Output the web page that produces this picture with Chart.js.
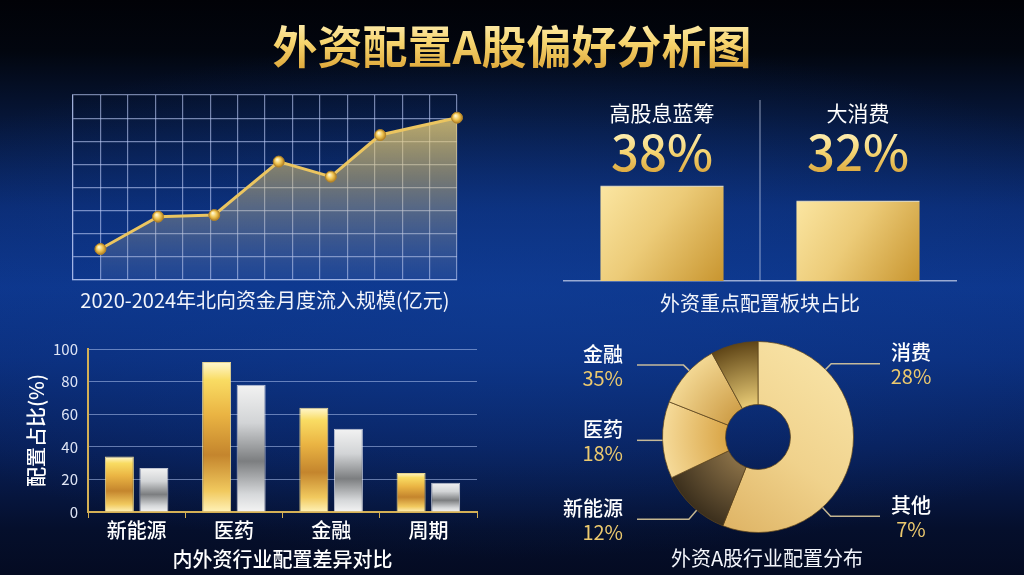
<!DOCTYPE html>
<html lang="zh-CN">
<head>
<meta charset="utf-8">
<title>外资配置A股偏好分析图</title>
<script src="https://cdn.jsdelivr.net/npm/chart.js@4.4.1/dist/chart.umd.min.js"></script>
<style>
  html, body { margin: 0; padding: 0; }
  body {
    width: 1024px; height: 575px; overflow: hidden; position: relative;
    font-family: "Noto Sans CJK SC", "Noto Sans", sans-serif;
    background:
      radial-gradient(ellipse 70% 45% at 50% 52%, rgba(16, 62, 150, 0.55) 0%, rgba(16, 62, 150, 0) 100%),
      linear-gradient(180deg, #010207 0%, #02060f 9%, #061536 20%, #0b2c74 36%, #0d368c 50%, #0b2f7e 62%, #081f58 78%, #050f2c 92%, #040b22 100%);
  }
  h1 {
    position: absolute; left: 0; top: 14px; width: 1024px; margin: 0;
    text-align: center; font-size: 45px; line-height: 62px; font-weight: 700;
    background: linear-gradient(180deg, #fff4c8 0%, #f7d670 45%, #d89c2c 100%);
    -webkit-background-clip: text; background-clip: text; color: transparent;
  }
  .panel { position: absolute; }
  .caption { position: absolute; color: #f3f5fb; font-size: 20px; line-height: 28px; text-align: center; white-space: nowrap; }
</style>
</head>
<body>
<h1>外资配置A股偏好分析图</h1>

<div class="panel" style="left:60px;top:85px;width:420px;height:205px"><canvas id="flowChart"></canvas></div>
<div class="caption" style="left:40px;top:286px;width:450px">2020-2024年北向资金月度流入规模(亿元)</div>

<div class="panel" style="left:560px;top:90px;width:420px;height:230px"><canvas id="sectorChart"></canvas></div>
<div class="caption" style="left:560px;top:289px;width:400px">外资重点配置板块占比</div>

<div class="panel" style="left:20px;top:330px;width:460px;height:245px"><canvas id="industryChart"></canvas></div>

<div class="panel" style="left:540px;top:320px;width:440px;height:255px"><canvas id="mixChart"></canvas></div>
<div class="caption" style="left:567px;top:544px;width:400px">外资A股行业配置分布</div>

<script>
/* 外资配置A股偏好分析图 */

/* ── DATA ───────────────────────────────────────────────────── */
// northbound monthly inflow (grid units)
const FLOW_X = [1, 3.1, 5.15, 7.5, 9.4, 11.2, 14];
const FLOW_Y = [134, 274, 281, 512, 447, 627, 702];

// key sectors
const SECTOR_NAMES = ['高股息蓝筹', '大消费'];
const SECTOR_SHARES = [38, 32];

// industry allocation, foreign (gold) vs domestic (silver)
const INDUSTRIES = ['新能源', '医药', '金融', '周期'];
const FOREIGN_ALLOC = [34, 92, 64, 24];
const DOMESTIC_ALLOC = [27, 78, 51, 18];
const ALLOC_TICKS = [0, 20, 40, 60, 80, 100];

// donut: slice sizes as drawn, callout labels as printed
const SLICE_SHARES = [56, 12, 13, 11, 8];
const CALLOUT_NAMES = ['消费', '其他', '新能源', '医药', '金融'];
const CALLOUT_PCTS = [28, 7, 12, 18, 35];

const GRID_BLUE = 'rgba(190, 205, 248, 0.6)';
const GOLD_LINE = '#d4b055';

Chart.defaults.font.family = '"Noto Sans CJK SC", "Noto Sans", sans-serif';
Chart.defaults.color = '#e6ebf7';
Chart.defaults.animation = false;

/* ── CHART: NORTHBOUND FLOW LINE ────────────────────────────── */
function buildFlowChart() {
  const areaFill = ctx => {
    const { chart } = ctx;
    const a = chart.chartArea;
    if (!a) return 'rgba(230,200,110,0.4)';
    const g = chart.ctx.createLinearGradient(0, a.top, 0, a.bottom);
    g.addColorStop(0, 'rgba(250, 220, 120, 0.88)');
    g.addColorStop(0.45, 'rgba(222, 196, 118, 0.5)');
    g.addColorStop(1, 'rgba(150, 165, 200, 0.12)');
    return g;
  };
  const ball = ctx => {
    const { chart } = ctx;
    if (!chart.chartArea || ctx.type !== 'data') return '#eec458';
    const px = chart.scales.x.getPixelForValue(FLOW_X[ctx.dataIndex]);
    const py = chart.scales.y.getPixelForValue(FLOW_Y[ctx.dataIndex]);
    const g = chart.ctx.createRadialGradient(px - 1.5, py - 2, 0.5, px, py, 6);
    g.addColorStop(0, '#fff6cc');
    g.addColorStop(0.5, '#efc451');
    g.addColorStop(1, '#a9761c');
    return g;
  };

  new Chart(document.getElementById('flowChart'), {
    type: 'line',
    data: {
      datasets: [{
        data: FLOW_X.map((x, i) => ({ x, y: FLOW_Y[i] })),
        borderColor: '#ebc560',
        borderWidth: 3,
        fill: 'origin',
        backgroundColor: areaFill,
        pointRadius: 5.5,
        pointBackgroundColor: ball,
        pointBorderColor: '#b3842a',
        pointBorderWidth: 1,
        clip: false,
      }]
    },
    options: {
      responsive: true,
      maintainAspectRatio: false,
      layout: { padding: { left: 13, right: 23, top: 10, bottom: 10 } },
      plugins: { legend: { display: false }, tooltip: { enabled: false } },
      scales: {
        x: {
          type: 'linear', min: 0, max: 14,
          ticks: { display: false, stepSize: 1 },
          grid: { color: GRID_BLUE, lineWidth: 1.2, drawTicks: false },
          border: { color: GRID_BLUE, width: 1.2 }
        },
        y: {
          min: 0, max: 800,
          ticks: { display: false, stepSize: 100 },
          grid: { color: GRID_BLUE, lineWidth: 1.2, drawTicks: false },
          border: { color: GRID_BLUE, width: 1.2 }
        }
      }
    }
  });
}

/* ── CHART: KEY SECTOR BARS ─────────────────────────────────── */
function buildSectorChart() {
  const goldBlock = ctx => {
    const { chart } = ctx;
    if (!chart.chartArea || ctx.type !== 'data') return '#e9c26a';
    const cx = chart.scales.x.getPixelForValue(ctx.dataIndex);
    const top = chart.scales.y.getPixelForValue(SECTOR_SHARES[ctx.dataIndex]);
    const bottom = chart.scales.y.getPixelForValue(0);
    const g = chart.ctx.createLinearGradient(cx - 62, top, cx + 62, bottom);
    g.addColorStop(0, '#fbe6a2');
    g.addColorStop(0.45, '#eccb78');
    g.addColorStop(1, '#c8952f');
    return g;
  };

  const sectorLabels = {
    id: 'sector-labels',
    afterDraw(chart) {
      const { ctx, chartArea, scales: { x } } = chart;
      const mid = (chartArea.left + chartArea.right) / 2;
      ctx.save();
      ctx.strokeStyle = 'rgba(200, 210, 235, 0.6)';
      ctx.lineWidth = 1.2;
      ctx.beginPath();
      ctx.moveTo(mid, chartArea.top);
      ctx.lineTo(mid, chartArea.bottom);
      ctx.stroke();
      ctx.textAlign = 'center';
      ctx.textBaseline = 'middle';
      SECTOR_NAMES.forEach((name, i) => {
        const cx = x.getPixelForValue(i);
        ctx.fillStyle = '#ffffff';
        ctx.font = '21px "Noto Sans CJK SC", sans-serif';
        ctx.fillText(name, cx, chartArea.top + 13);
        const py = chartArea.top + 52;
        const g = ctx.createLinearGradient(0, py - 22, 0, py + 22);
        g.addColorStop(0, '#fff2bd');
        g.addColorStop(0.5, '#f5d573');
        g.addColorStop(1, '#dba63c');
        ctx.fillStyle = g;
        ctx.font = '500 49px "Noto Sans CJK SC", sans-serif';
        ctx.fillText(SECTOR_SHARES[i] + '%', cx, py);
      });
      ctx.restore();
    }
  };

  new Chart(document.getElementById('sectorChart'), {
    type: 'bar',
    data: {
      labels: SECTOR_NAMES,
      datasets: [{
        data: SECTOR_SHARES,
        backgroundColor: goldBlock,
        borderColor: 'rgba(255, 240, 195, 0.85)',
        borderWidth: { top: 1.5, left: 0, right: 0, bottom: 0 },
        borderSkipped: 'bottom',
        categoryPercentage: 1,
        barPercentage: 0.63,
      }]
    },
    options: {
      responsive: true,
      maintainAspectRatio: false,
      layout: { padding: { left: 4, right: 24, top: 10, bottom: 39 } },
      plugins: { legend: { display: false }, tooltip: { enabled: false } },
      scales: {
        x: {
          ticks: { display: false },
          grid: { display: false, drawTicks: false },
          border: { color: 'rgba(200, 210, 235, 0.75)', width: 1.5 }
        },
        y: { display: false, min: 0, max: 72 }
      }
    },
    plugins: [sectorLabels]
  });
}

/* ── CHART: INDUSTRY GROUPED BARS ───────────────────────────── */
const GOLD_STOPS = [[0, '#fff7cf'], [0.12, '#f9dc63'], [0.35, '#eab443'], [0.62, '#c4852d'], [0.86, '#f1c95e'], [1, '#fff2b8']];
const SILVER_STOPS = [[0, '#f2f2f2'], [0.3, '#d2d4d6'], [0.6, '#7c7e80'], [0.86, '#d6d8da'], [1, '#f4f4f4']];

function columnFill(values, stops) {
  return ctx => {
    const { chart } = ctx;
    if (!chart.chartArea || ctx.type !== 'data') return stops[2][1];
    const y = chart.scales.y;
    const top = y.getPixelForValue(values[ctx.dataIndex]);
    const bottom = y.getPixelForValue(0);
    const g = chart.ctx.createLinearGradient(0, top, 0, bottom);
    stops.forEach(([o, c]) => g.addColorStop(o, c));
    return g;
  };
}

function buildIndustryChart() {
  new Chart(document.getElementById('industryChart'), {
    type: 'bar',
    data: {
      labels: INDUSTRIES,
      datasets: [{
        label: '外资',
        data: FOREIGN_ALLOC,
        backgroundColor: columnFill(FOREIGN_ALLOC, GOLD_STOPS),
        borderColor: 'rgba(255, 232, 150, 0.9)',
        borderWidth: 1,
        borderSkipped: 'bottom',
      }, {
        label: '内资',
        data: DOMESTIC_ALLOC,
        backgroundColor: columnFill(DOMESTIC_ALLOC, SILVER_STOPS),
        borderColor: 'rgba(235, 235, 240, 0.8)',
        borderWidth: 1,
        borderSkipped: 'bottom',
      }]
    },
    options: {
      responsive: true,
      maintainAspectRatio: false,
      categoryPercentage: 0.71,
      barPercentage: 0.84,
      layout: { padding: { left: 0, right: 3, top: 17, bottom: 4 } },
      plugins: { legend: { display: false }, tooltip: { enabled: false } },
      scales: {
        x: {
          grid: { display: true, drawOnChartArea: false, drawTicks: true, tickLength: 6, color: GOLD_LINE, offset: true },
          border: { display: true, color: GOLD_LINE, width: 2 },
          ticks: { color: '#ffffff', font: { size: 20, weight: 500 }, padding: 0 },
          title: { display: true, text: '内外资行业配置差异对比', color: '#ffffff', font: { size: 20, weight: 500 }, padding: { top: 0, bottom: 0 } },
          afterFit: s => { s.height = 59; }
        },
        y: {
          min: 0, max: 100,
          afterBuildTicks: s => { s.ticks = ALLOC_TICKS.map(v => ({ value: v })); },
          ticks: { color: '#dfe5f5', font: { size: 15 }, padding: 10 },
          grid: { color: 'rgba(175, 195, 240, 0.55)', drawTicks: false },
          border: { display: true, color: GOLD_LINE, width: 2 },
          title: { display: true, text: '配置占比(%)', color: '#ffffff', font: { size: 20, weight: 500 }, padding: { top: 4, bottom: 4 } },
          afterFit: s => { s.width = 68; }
        }
      }
    }
  });
}

/* ── CHART: ALLOCATION DONUT ────────────────────────────────── */
const SLICE_RADIAL = [null, ['#8c7248', '#3a2e1c'], ['#d8a343', '#f6db9a'], ['#cd9c45', '#f3d894'], ['#f0d27a', '#5e4416']];

function sliceFill(ctx) {
  const { chart } = ctx;
  const a = chart.chartArea;
  if (!a || ctx.type !== 'data') return '#e6c070';
  const cx = (a.left + a.right) / 2, cy = (a.top + a.bottom) / 2;
  const r = Math.min(a.width, a.height) / 2;
  const c = chart.ctx;
  const pair = SLICE_RADIAL[ctx.dataIndex];
  if (!pair) {
    const g = c.createLinearGradient(cx + r * 0.8, cy - r * 0.8, cx - r * 0.5, cy + r);
    g.addColorStop(0, '#f8e3a6');
    g.addColorStop(0.5, '#f0d28c');
    g.addColorStop(1, '#dcb060');
    return g;
  }
  const g = c.createRadialGradient(cx, cy, r * 0.3, cx, cy, r);
  g.addColorStop(0, pair[0]);
  g.addColorStop(1, pair[1]);
  return g;
}

function buildMixChart() {
  // angle (deg, clockwise from top), elbow stretch, side
  const LAYOUT = [
    { a: 45, ext: 8, side: 1 },
    { a: 137.5, ext: 12, side: 1 },
    { a: 220, ext: 12, side: -1 },
    { a: 268, ext: 0, side: -1 },
    { a: 314, ext: 8, side: -1 },
  ];

  const callouts = {
    id: 'callouts',
    afterDraw(chart) {
      const { ctx, chartArea: a } = chart;
      const cx = (a.left + a.right) / 2, cy = (a.top + a.bottom) / 2;
      const r = chart.getDatasetMeta(0).data[0].outerRadius;
      ctx.save();
      ctx.strokeStyle = 'rgba(230, 210, 160, 0.85)';
      ctx.lineWidth = 1.5;
      ctx.textBaseline = 'middle';
      CALLOUT_NAMES.forEach((name, i) => {
        const L = LAYOUT[i];
        const rad = L.a * Math.PI / 180;
        const ax = cx + r * Math.sin(rad), ay = cy - r * Math.cos(rad);
        const ex = cx + (r + L.ext) * Math.sin(rad), ey = cy - (r + L.ext) * Math.cos(rad);
        const endX = L.side > 0 ? cx + 122 : cx - 121;
        ctx.beginPath();
        ctx.moveTo(ax, ay);
        ctx.lineTo(ex, ey);
        ctx.lineTo(endX, ey);
        ctx.stroke();
        const tx = L.side > 0 ? cx + 153 : cx - 135;
        ctx.textAlign = L.side > 0 ? 'center' : 'right';
        ctx.font = '500 20px "Noto Sans CJK SC", sans-serif';
        ctx.fillStyle = '#ffffff';
        ctx.fillText(name, tx, ey - 11);
        ctx.font = '20px "Noto Sans CJK SC", sans-serif';
        ctx.fillStyle = '#ecc96e';
        ctx.fillText(CALLOUT_PCTS[i] + '%', tx, ey + 13);
      });
      ctx.restore();
    }
  };

  new Chart(document.getElementById('mixChart'), {
    type: 'doughnut',
    data: {
      labels: SLICE_SHARES.map((_, i) => 'slice ' + (i + 1)),
      datasets: [{
        data: SLICE_SHARES,
        backgroundColor: sliceFill,
        borderColor: 'rgba(95, 70, 28, 0.75)',
        borderWidth: 1,
      }]
    },
    options: {
      responsive: true,
      maintainAspectRatio: false,
      cutout: '34%',
      layout: { padding: { left: 122, right: 126, top: 21, bottom: 42 } },
      plugins: { legend: { display: false }, tooltip: { enabled: false } }
    },
    plugins: [callouts]
  });
}

/* ── INIT ───────────────────────────────────────────────────── */
buildFlowChart();
buildSectorChart();
buildIndustryChart();
buildMixChart();
</script>
</body>
</html>
